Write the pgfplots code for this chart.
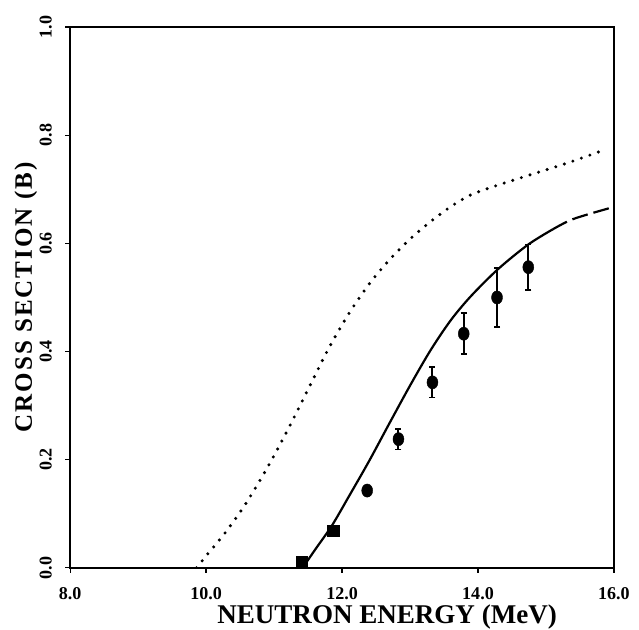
\documentclass[border=0pt]{standalone}
\usepackage{fontspec}
\setmainfont{Liberation Serif}
\usepackage{pgfplots}
\pgfplotsset{compat=1.18}

% curves
\pgfplotstableread{
x y
9.86 0.000
10.00 0.022
10.30 0.068
10.60 0.122
10.90 0.185
11.20 0.255
11.50 0.330
11.80 0.405
12.10 0.470
12.40 0.525
12.70 0.570
13.00 0.608
13.30 0.640
13.60 0.668
13.90 0.690
14.30 0.708
14.80 0.728
15.30 0.748
15.84 0.772
}\dotcurve

\pgfplotstableread{
x y
11.42 0.000
11.60 0.033
11.85 0.078
12.10 0.132
12.40 0.198
12.70 0.268
13.00 0.337
13.30 0.402
13.60 0.458
13.90 0.503
14.30 0.553
14.74 0.598
15.10 0.626
}\solidcurve

\pgfplotstableread{
x y
15.10 0.626
15.40 0.645
15.93 0.665
}\dashcurve

\pgfplotstableread{
x y e
12.37 0.143 0.000
12.83 0.238 0.019
13.33 0.343 0.028
13.79 0.433 0.038
14.28 0.500 0.055
14.74 0.556 0.042
}\points

\begin{document}
\begin{tikzpicture}
\begin{axis}[
    name=main,
    scale only axis,
    width=543pt, height=540pt,
    xmin=8, xmax=16, ymin=0, ymax=1,
    xtick={8,10,12,14,16},
    ytick={0,0.2,0.4,0.6,0.8,1.0},
    tick pos=left,
    tick align=outside,
    major tick length=5pt,
    tick style={line width=1.2pt, black},
    axis line style={line width=2.6pt},
    /pgf/number format/assume math mode=true,
    xticklabel={\pgfmathprintnumber[fixed,fixed zerofill,precision=1]{\tick}},
    yticklabel={\pgfmathprintnumber[fixed,fixed zerofill,precision=1]{\tick}},
    tick label style={font=\bfseries\fontsize{18}{18}\selectfont, inner sep=1pt},
    xticklabel style={text depth=0pt},
    yticklabel style={rotate=90, anchor=south},
    xticklabel shift=13pt,
    yticklabel shift=12pt,
    xlabel={NEUTRON ENERGY (MeV)},
    ylabel={CROSS SECTION (B)},
    xlabel style={font=\bfseries\fontsize{27}{27}\selectfont, inner sep=1pt,
        text height=18pt, text depth=5pt,
        at={(axis description cs:0.5,0)}, anchor=center, xshift=45pt, yshift=-49.5pt},
    ylabel style={font=\bfseries\fontsize{25}{25}\selectfont\addfontfeatures{LetterSpace=8}, yshift=-2pt},
]
\addplot[black, line width=3.4pt, line cap=round, dash pattern=on 0pt off 9pt, smooth] table {\dotcurve};
\addplot[black, line width=2.2pt, smooth] table {\solidcurve};
\addplot[black, line width=2.2pt, dash pattern=on 16pt off 6pt, smooth] table {\dashcurve};
\addplot[only marks, mark=square*, mark size=5.5pt, black] coordinates {(11.40,0.012) (11.87,0.068)};
\addplot[only marks, mark=*, black, mark size=5.5pt, mark options={yscale=1.2},
    error bars/.cd, y dir=both, y explicit,
    error bar style={line width=2pt, black},
    error mark options={rotate=90, mark size=3pt, line width=1.6pt, black}]
    table[x=x, y=y, y error=e] {\points};
\end{axis}
\pgfresetboundingbox
\path ([xshift=-70pt,yshift=-62pt]main.south west) rectangle ([xshift=25pt,yshift=27pt]main.north east);
\end{tikzpicture}
\end{document}
